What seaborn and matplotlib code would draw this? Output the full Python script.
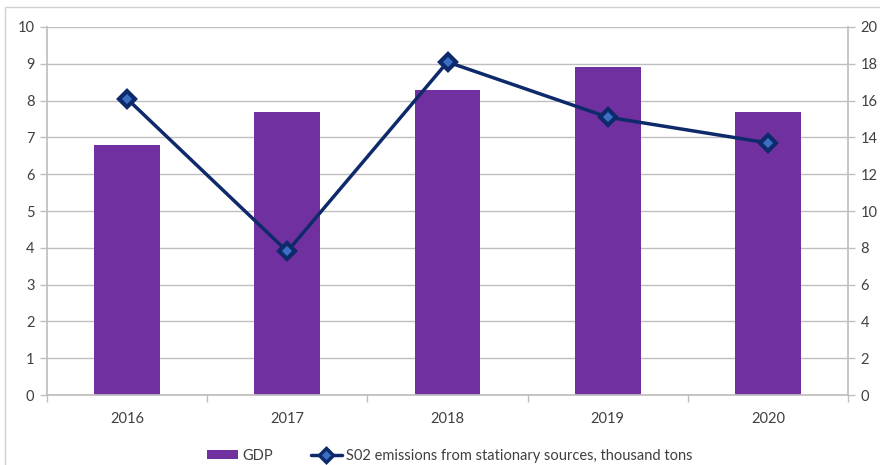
import matplotlib
matplotlib.use("Agg")
import matplotlib.pyplot as plt
from matplotlib.patches import Rectangle
from matplotlib.lines import Line2D
import numpy as np
import pandas as pd
import seaborn as sns

years = ["2016", "2017", "2018", "2019", "2020"]
gdp = [6.8, 7.7, 8.3, 8.9, 7.7]
so2 = [16.1, 7.8, 18.1, 15.1, 13.7]

bar_color = "#7030A0"
line_color = "#0E2A6B"
marker_face = "#3A6FC4"
grid_color = "#BFBFBF"
text_color = "#404040"

sns.set_theme(style="white")
plt.rcParams["font.family"] = ["Lato", "DejaVu Sans"]

fig = plt.figure(figsize=(8.8, 4.65), dpi=100)
ax = fig.add_axes([47 / 880, 1 - 395 / 465, (848 - 47) / 880, (395 - 27) / 465])

df = pd.DataFrame({"year": years, "gdp": gdp, "so2": so2, "pos": np.arange(len(years))})

sns.barplot(data=df, x="year", y="gdp", color=bar_color, saturation=1,
            width=0.41, ax=ax, zorder=2)
for p in ax.patches:
    p.set_edgecolor("none")

ax.set_ylim(0, 10)
ax.set_xlim(-0.5, len(years) - 0.5)
ax.set_yticks(range(0, 11))
ax.yaxis.grid(True, color=grid_color, linewidth=1)
ax.set_axisbelow(True)
ax.set_xlabel("")
ax.set_ylabel("")

# category boundary ticks on the x axis
ax.set_xticks(np.arange(len(years)))
ax.set_xticklabels(years)
ax.set_xticks(np.arange(-0.5, len(years), 1.0), minor=True)
ax.tick_params(axis="x", which="major", length=0, pad=12, labelsize=10.5, labelcolor=text_color)
ax.tick_params(axis="x", which="minor", length=5, width=1, color=grid_color, direction="out", bottom=True)
ax.tick_params(axis="y", length=5, width=1, color=grid_color, direction="out", left=True,
               labelsize=10.5, labelcolor=text_color, pad=4)

for s in ["top", "right"]:
    ax.spines[s].set_visible(False)
ax.spines["left"].set_color(grid_color)
ax.spines["bottom"].set_color(grid_color)

ax2 = ax.twinx()
sns.lineplot(data=df, x="pos", y="so2", color=line_color, linewidth=2.5, ax=ax2,
             marker="D", markersize=8, markerfacecolor=marker_face,
             markeredgecolor=line_color, markeredgewidth=3, zorder=3)
ax2.set_ylim(0, 20)
ax2.set_yticks(range(0, 21, 2))
ax2.set_xlim(-0.5, len(years) - 0.5)
ax2.set_xlabel("")
ax2.set_ylabel("")
ax2.tick_params(axis="y", length=5, width=1, color=grid_color, direction="out", right=True,
                labelsize=10.5, labelcolor=text_color, pad=4)
for s in ["top", "left", "bottom"]:
    ax2.spines[s].set_visible(False)
ax2.spines["right"].set_color(grid_color)

handles = [
    Rectangle((0, 0), 1, 1, facecolor=bar_color, edgecolor="none"),
    Line2D([0], [0], color=line_color, linewidth=2.5, marker="D", markersize=7,
           markerfacecolor=marker_face, markeredgecolor=line_color, markeredgewidth=2.5),
]
fig.legend(handles, ["GDP", "S02 emissions from stationary sources, thousand tons"],
           loc="center", bbox_to_anchor=(450 / 880, 1 - 456 / 465), ncol=2, frameon=False,
           fontsize=10.5, handlelength=2.1, handleheight=0.6, columnspacing=2.6,
           handletextpad=0.3, labelcolor=text_color)

# chart area outline
fig.patches.append(Rectangle((5 / 880, -0.1), 2, 1 - 7 / 465 + 0.1, transform=fig.transFigure,
                             fill=False, edgecolor="#D0D0D0", linewidth=1))

fig.savefig("out.png", dpi=100)
